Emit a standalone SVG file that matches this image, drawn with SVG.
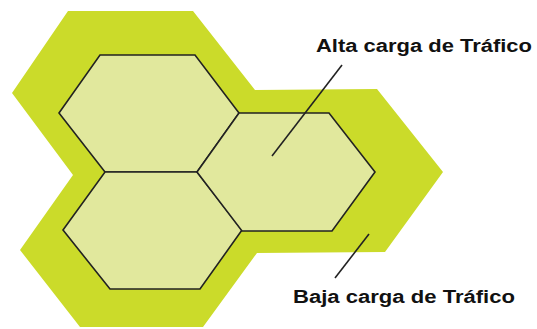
<svg xmlns="http://www.w3.org/2000/svg" width="537" height="329" viewBox="0 0 537 329">
<style>
.outer{fill:#cbdb2a;stroke:none}
.cell{fill:#e1e89d;stroke:#222;stroke-width:1.6;stroke-linejoin:miter}
.lead{stroke:#222;stroke-width:1.6;fill:none}
.lbl{font-family:"Liberation Sans",Arial,sans-serif;font-weight:bold;font-size:18px;fill:#111}
</style>
<rect width="537" height="329" fill="#fff"/>
<g id="coverage">
<path class="outer" d="M68,11 L193,11 L255,90 L377,89 L443,172 L385,252 L257,253 L203,327 L80,327 L20,250 L73,175 L12,93 Z"/>
</g>
<g id="cell-top-left">
<path class="cell" d="M100,55 L195,55 L239,113 L197,172 L105,172 L59,113 Z"/>
</g>
<g id="cell-bottom-left">
<path class="cell" d="M105,172 L197,172 L242,230 L200,289 L110,289 L63,230 Z"/>
</g>
<g id="cell-right">
<path class="cell" d="M239,113 L329,113 L375,172 L332,231 L242,231 L197,172 Z"/>
</g>
<g id="connectors">
<line class="lead" x1="342" y1="65" x2="272" y2="156"/>
<line class="lead" x1="369" y1="234" x2="335" y2="278"/>
</g>
<g id="label-alta">
<text class="lbl" x="316" y="52" textLength="216" lengthAdjust="spacingAndGlyphs">Alta carga de Tráfico</text>
</g>
<g id="label-baja">
<text class="lbl" x="293" y="303" textLength="222" lengthAdjust="spacingAndGlyphs">Baja carga de Tráfico</text>
</g>
</svg>
